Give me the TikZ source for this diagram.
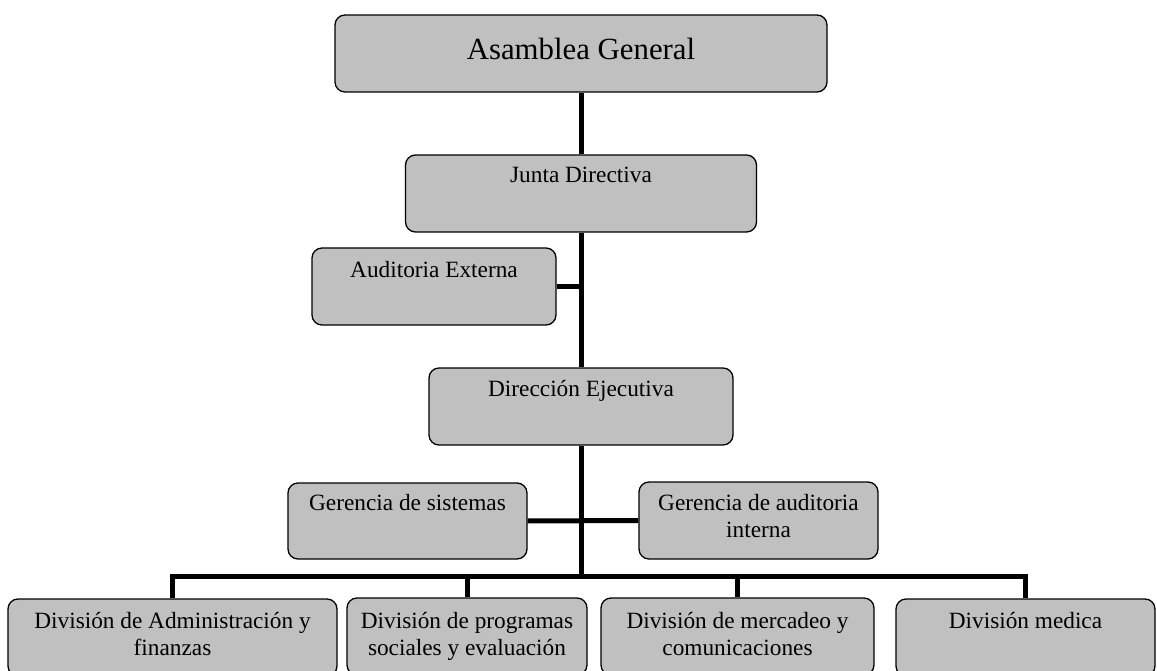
\documentclass[tikz,border=0pt]{standalone}
\usepackage{fontspec}
\setmainfont{Liberation Serif}
\definecolor{boxgray}{HTML}{C0C0C0}
\tikzset{
  orgbox/.style={draw=black, line width=1.3pt, fill=boxgray, rounded corners=10pt,
    inner sep=0pt, minimum height=77pt},
  orgtext/.style={anchor=base, inner sep=0pt, align=flush center, font=\fontsize{23.3}{27}\selectfont},
  bigtext/.style={anchor=base, inner sep=0pt, align=flush center, font=\fontsize{30.8}{36}\selectfont},
  link/.style={line width=5pt}
}
\begin{document}
\begin{tikzpicture}[x=1pt,y=-1pt]
\useasboundingbox (0,0) rectangle (1157,671);
\clip (0,0) rectangle (1157,671);
% boxes
\node[orgbox, minimum width=492pt] (ag) at (581,53.5) {};
\node[orgbox, minimum width=351pt] (jd) at (581,193.5) {};
\node[orgbox, minimum width=244pt] (ae) at (434,286.5) {};
\node[orgbox, minimum width=304pt] (de) at (581,406.5) {};
\node[orgbox, minimum width=239pt, minimum height=76pt] (gs) at (407.5,521) {};
\node[orgbox, minimum width=239pt] (ga) at (758.5,520.5) {};
\node[orgbox, minimum width=329pt] (d1) at (172.5,637.5) {};
\node[orgbox, minimum width=240pt] (d2) at (467,636.5) {};
\node[orgbox, minimum width=273pt] (d3) at (737.5,636.5) {};
\node[orgbox, minimum width=259pt] (d4) at (1025.5,637.5) {};
% texts
\node[bigtext] (agt) at (581,60) {Asamblea General};
\node[orgtext] (jdt) at (581,183) {Junta Directiva};
\node[orgtext] (aet) at (434,277) {Auditoria Externa};
\node[orgtext] (det) at (581,396) {Dirección Ejecutiva};
\node[orgtext] (gst) at (407.5,510) {Gerencia de sistemas};
\node[orgtext, text width=230pt] (gat) at (758.5,510) {Gerencia de auditoria\\interna};
\node[orgtext, text width=320pt] (d1t) at (172.5,628) {División de Administración y\\finanzas};
\node[orgtext, text width=235pt] (d2t) at (467,628) {División de programas\\sociales y evaluación};
\node[orgtext, text width=265pt] (d3t) at (737.5,628) {División de mercadeo y\\comunicaciones};
\node[orgtext, text width=250pt] (d4t) at (1025.5,628) {División medica};
% connectors
\coordinate (bus) at (581,576);
\draw[link] (ag.south) -- (jd.north);
\draw[link] (jd.south) -- (de.north);
\draw[link] (ae.east) -- (ae.east -| jd.south);
\draw[link] (de.south) -- (bus);
\draw[link] (gs.east) -- (ga.west);
\draw[link] (d1.north) -- (d1.north |- bus) -- (d4.north |- bus) -- (d4.north);
\draw[link] (d2.north) -- (d2.north |- bus);
\draw[link] (d3.north) -- (d3.north |- bus);
\end{tikzpicture}
\end{document}
